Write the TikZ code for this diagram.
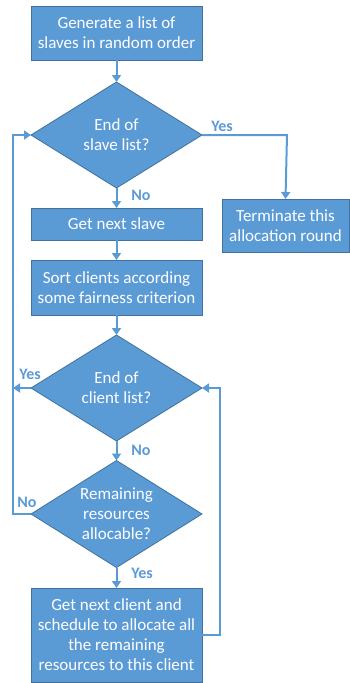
\documentclass[tikz,border=0pt]{standalone}
\usepackage{fontspec}
\setmainfont{Carlito}
\usetikzlibrary{shapes.geometric,arrows.meta}
\definecolor{fillblue}{HTML}{5B9BD5}
\definecolor{edgeblue}{HTML}{41719C}
\definecolor{lineblue}{HTML}{5B9BD5}
\begin{document}
\begin{tikzpicture}[x=1pt,y=-1pt,
  stepbox/.style={rectangle,draw=edgeblue,line width=0.8pt,fill=fillblue,text=white,
    minimum width=171pt,inner sep=0pt,outer sep=0pt,align=center,
    font=\fontsize{17}{20}\selectfont},
  decide/.style={diamond,draw=edgeblue,line width=0.8pt,fill=fillblue,text=white,
    minimum width=171pt,inner sep=0pt,outer sep=0pt,align=center,aspect=1.6,
    font=\fontsize{17}{20}\selectfont},
  conn/.style={draw=lineblue,line width=2pt,-{Triangle[width=9pt,length=7pt]}},
  lab/.style={text=lineblue,font=\fontsize{16}{18}\bfseries\selectfont,inner sep=0pt}]
\useasboundingbox (0,0) rectangle (349,683);
\node[stepbox,minimum height=54pt] (b1) at (116.5,33) {Generate a list of\\slaves in random order};
\node[decide,minimum height=106pt] (d1) at (116.5,135) {End of\\slave list?};
\node[stepbox,minimum width=127pt,minimum height=53pt] (t) at (285.5,225.5) {Terminate this\\allocation round};
\node[stepbox,minimum height=32pt] (b2) at (116.5,224) {Get next slave};
\node[stepbox,minimum height=55pt] (b3) at (116.5,287.5) {Sort clients according\\some fairness criterion};
\node[decide,minimum height=106pt] (d2) at (116.5,388) {End of\\client list?};
\node[decide,minimum height=107pt] (d3) at (116.5,514) {Remaining\\resources\\allocable?};
\node[stepbox,minimum height=94pt] (b4) at (116.5,635) {Get next client and\\schedule to allocate all\\the remaining\\resources to this client};
\coordinate (c1) at (287,135);
\coordinate (c2) at (13,388);
\coordinate (c3) at (13,514);
\coordinate (c4) at (13,135);
\coordinate (c5) at (202,635);
\coordinate (c6) at (220,635);
\coordinate (c7) at (220,388);
\draw[conn] (b1.south) -- (d1.north);
\draw[conn] (d1.east) -- (c1) -- (t.north);
\draw[conn] (d1.south) -- (b2.north);
\draw[conn] (b2.south) -- (b3.north);
\draw[conn] (b3.south) -- (d2.north);
\draw[conn] (d2.west) -- (c2);
\draw[conn] (d2.south) -- (d3.north);
\draw[conn] (d3.west) -- (c3) -- (c4) -- (d1.west);
\draw[conn] (d3.south) -- (b4.north);
\draw[conn] (c5) -- (c6) -- (c7) -- (d2.east);
\node[lab] (l1) at (222,126) {Yes};
\node[lab] (l2) at (141,195) {No};
\node[lab] (l3) at (30,374) {Yes};
\node[lab] (l4) at (141,450) {No};
\node[lab] (l5) at (27,502) {No};
\node[lab] (l6) at (142,573) {Yes};
\end{tikzpicture}
\end{document}
